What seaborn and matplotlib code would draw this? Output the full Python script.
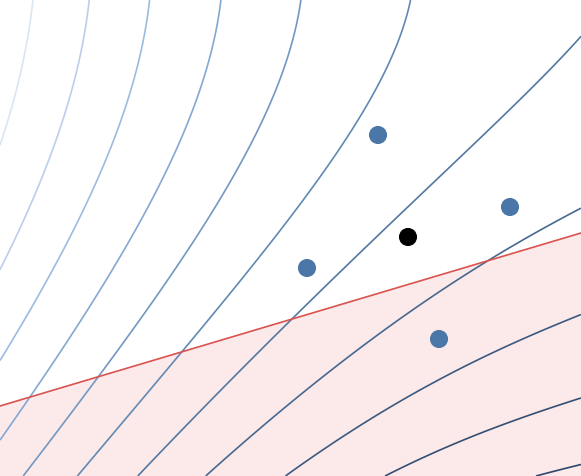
import numpy as np
import matplotlib
matplotlib.use("Agg")
import matplotlib.pyplot as plt
from matplotlib.colors import LinearSegmentedColormap
import seaborn as sns

W, H = 581, 476
# observed points (pixel coordinates, y downward)
pts_x = [378, 510, 307, 439]
pts_y = [135, 207, 268, 339]
best_x = [408]
best_y = [237]
# constraint line
line_x = [0, 581]
line_y = [406, 233]
# points (pixel coordinates)
curves = [
    [(0, 145), (33, 0)],
    [(0, 270), (89, 0)],
    [(0, 360), (150, 0)],
    [(0, 441), (220, 0)],
    [(23, 476), (97, 377), (303, 0)],
    [(77, 476), (183, 352), (409, 0)],
    [(138, 476), (292, 319), (581, 35)],
    [(206, 476), (475, 265), (581, 212)],
    [(285, 476), (581, 315)],
    [(385, 476), (581, 398)],
    [(545, 476), (581, 462)],
]

def basis(x, y):
    u = np.asarray(x, float) / W
    v = 1 - np.asarray(y, float) / H
    return [u, v, u * u, u * v, v * v, u ** 3, u * u * v, u * v * v, v ** 3]

rows = []
for c in curves:
    for i in range(1, len(c)):
        b0 = basis(*c[0]); b1 = basis(*c[i])
        rows.append([p - q for p, q in zip(b0, b1)])
M = np.array(rows)
coef, *_ = np.linalg.lstsq(M[:, 1:], -M[:, 0], rcond=None)
coef = np.concatenate([[1.0], coef])

def field(x, y):
    return sum(c * b for c, b in zip(coef, basis(x, y)))

levels = sorted(np.mean([field(*p) for p in c]) for c in curves)

sns.set_style("white")
fig = plt.figure(figsize=(5.81, 4.76), dpi=100)
ax = fig.add_axes([0, 0, 1, 1])
xs = np.linspace(0, W, 400)
ys = np.linspace(0, H, 400)
X, Y = np.meshgrid(xs, ys)
F = field(X, Y)
cmap = LinearSegmentedColormap.from_list("c", ["#dbe5f2", "#8fb3dd", "#5b83ad", "#2e466b"])
ax.fill_between(line_x, line_y, H, color="#fce9ea", lw=0, zorder=0)
ax.contour(X, Y, F, levels=levels, cmap=cmap, linewidths=1.2, zorder=1)
ax.plot(line_x, line_y, color="#d9534f", lw=1.2, zorder=2)
sns.scatterplot(x=pts_x, y=pts_y, ax=ax, color="#4a76a8", s=170, edgecolor="none", zorder=5)
sns.scatterplot(x=best_x, y=best_y, ax=ax, color="black", s=170, edgecolor="none", zorder=5)
ax.set_xlim(0, W)
ax.set_ylim(H, 0)
ax.axis("off")
fig.savefig("out.png", dpi=100)
